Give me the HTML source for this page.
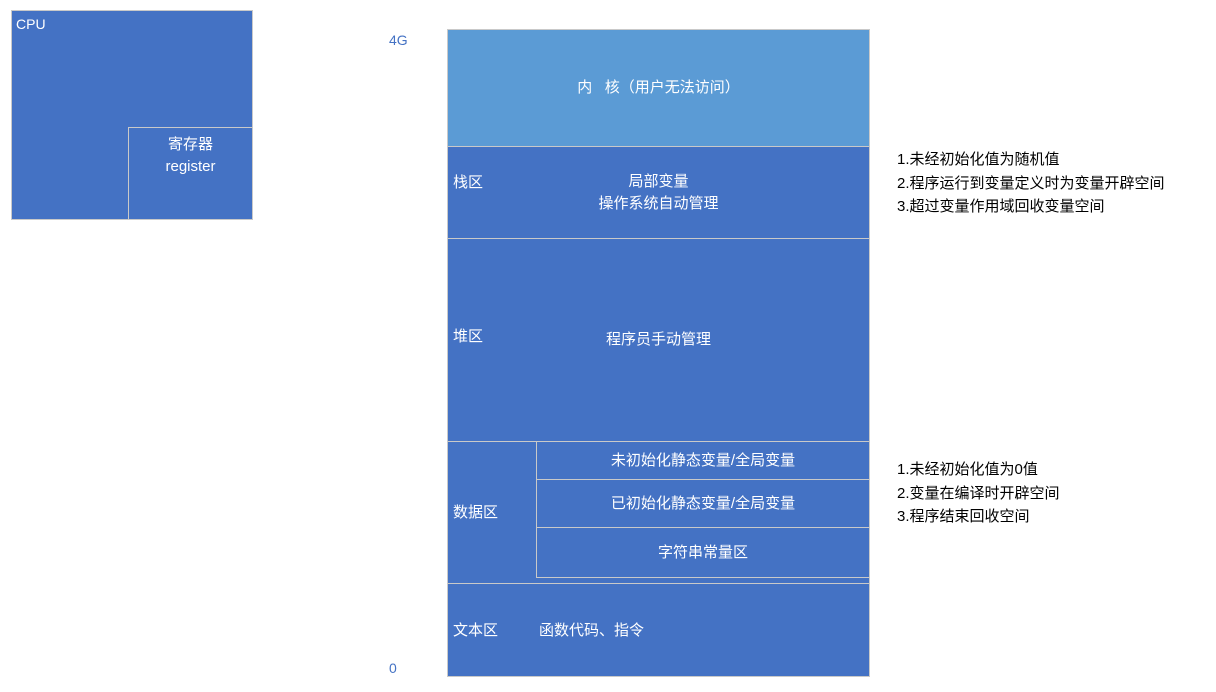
<!DOCTYPE html>
<html><head><meta charset="utf-8"><style>
body{margin:0;width:1216px;height:692px;background:#fff;position:relative;overflow:hidden;font-family:"Liberation Sans","Noto Sans CJK SC",sans-serif;font-size:15px;}
.b{position:absolute;background:#4472c4;border:1px solid #c9c9c9;box-sizing:border-box;color:#fff;}
.t{position:absolute;white-space:nowrap;}
.c{display:flex;align-items:center;justify-content:center;text-align:center;line-height:22px;}
.n{position:absolute;color:#000;line-height:23.5px;font-size:15px;}
</style></head><body>
<div class="b" style="left:11px;top:10px;width:242px;height:210px;"><span class="t" style="left:4px;top:5px;font-size:14px">CPU</span></div>
<div class="b c" style="left:128px;top:127px;width:125px;height:93px;align-items:flex-start;padding-top:6px;">寄存器<br>register</div>
<div class="t" style="left:389px;top:32px;color:#4472c4;font-size:14px">4G</div>
<div class="t" style="left:389px;top:660px;color:#4472c4;font-size:14px">0</div>
<div class="b c" style="left:447px;top:29px;width:423px;height:118px;background:#5b9bd5;">内&nbsp;&nbsp;&nbsp;核（用户无法访问）</div>
<div class="b c" style="left:447px;top:146px;width:423px;height:93px;">局部变量<br>操作系统自动管理<span class="t" style="left:5px;top:25px">栈区</span></div>
<div class="b c" style="left:447px;top:238px;width:423px;height:204px;">程序员手动管理<span class="t" style="left:5px;top:87px">堆区</span></div>
<div class="b" style="left:447px;top:441px;width:423px;height:143px;"><span class="t" style="left:5px;top:59px">数据区</span></div>
<div class="b c" style="left:536px;top:441px;width:334px;height:39px;">未初始化静态变量/全局变量</div>
<div class="b c" style="left:536px;top:479px;width:334px;height:49px;">已初始化静态变量/全局变量</div>
<div class="b c" style="left:536px;top:527px;width:334px;height:51px;">字符串常量区</div>
<div class="b" style="left:447px;top:583px;width:423px;height:94px;"><span class="t" style="left:5px;top:35px">文本区</span><span class="t" style="left:91px;top:35px">函数代码、指令</span></div>
<div class="n" style="left:897px;top:148px">1.未经初始化值为随机值<br>2.程序运行到变量定义时为变量开辟空间<br>3.超过变量作用域回收变量空间</div>
<div class="n" style="left:897px;top:458px">1.未经初始化值为0值<br>2.变量在编译时开辟空间<br>3.程序结束回收空间</div>
</body></html>
